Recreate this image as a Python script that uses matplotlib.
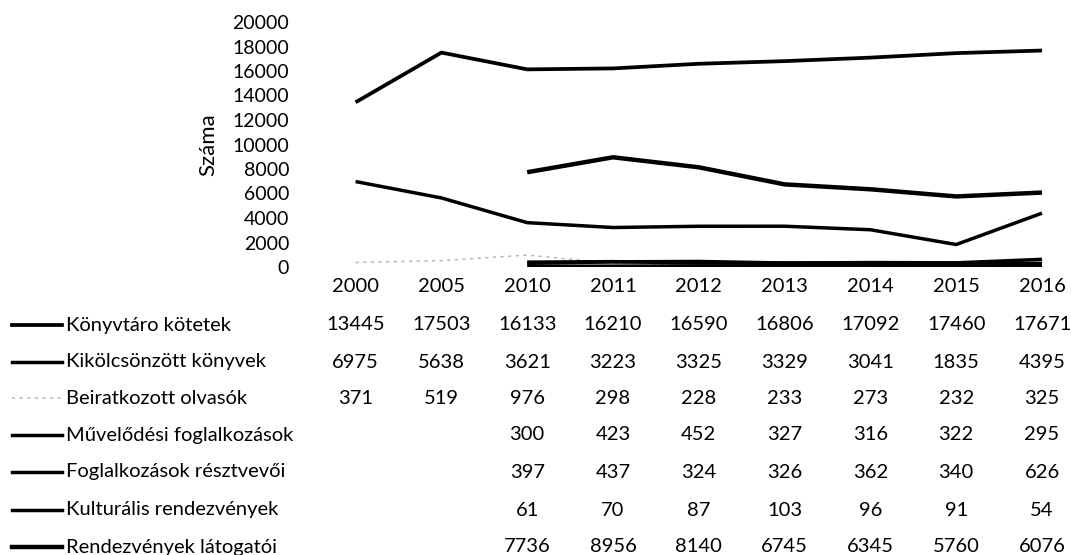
import numpy as np
import matplotlib.pyplot as plt
from matplotlib.lines import Line2D
from matplotlib.transforms import blended_transform_factory

plt.rcParams['font.family'] = ['Lato', 'DejaVu Sans']

years = ["2000", "2005", "2010", "2011", "2012", "2013", "2014", "2015", "2016"]
nan = np.nan
konyvtari_kotetek = [13445, 17503, 16133, 16210, 16590, 16806, 17092, 17460, 17671]
kikolcsonzott = [6975, 5638, 3621, 3223, 3325, 3329, 3041, 1835, 4395]
beiratkozott = [371, 519, 976, 298, 228, 233, 273, 232, 325]
muvelodesi = [nan, nan, 300, 423, 452, 327, 316, 322, 295]
resztvevok = [nan, nan, 397, 437, 324, 326, 362, 340, 626]
kulturalis = [nan, nan, 61, 70, 87, 103, 96, 91, 54]
latogatok = [nan, nan, 7736, 8956, 8140, 6745, 6345, 5760, 6076]

series = [
    ("Könyvtáro kötetek", konyvtari_kotetek, dict(color="black", lw=2.7)),
    ("Kikölcsönzött könyvek", kikolcsonzott, dict(color="black", lw=2.5)),
    ("Beiratkozott olvasók", beiratkozott, dict(color="#b5b5b5", lw=1.1, ls=(0, (2, 3)))),
    ("Művelődési foglalkozások", muvelodesi, dict(color="black", lw=2.5)),
    ("Foglalkozások résztvevői", resztvevok, dict(color="black", lw=2.5)),
    ("Kulturális rendezvények", kulturalis, dict(color="black", lw=2.5)),
    ("Rendezvények látogatói", latogatok, dict(color="black", lw=3.2)),
]

W, H = 1071, 555
fig = plt.figure(figsize=(W / 100, H / 100), dpi=100)

# plot area in pixels
x0_px, step_px = 355.6, 85.8
left_px = x0_px - step_px / 2
top_px, bottom_px = 22, 267
ax = fig.add_axes([left_px / W, 1 - bottom_px / H, (W - left_px) / W, (bottom_px - top_px) / H])
ax.set_xlim(-0.5, (W - left_px) / step_px - 0.5)
ax.set_ylim(0, 20000)

x = np.arange(len(years))
for name, vals, style in series:
    ax.plot(x, vals, solid_capstyle="butt", **style)

for s in ax.spines.values():
    s.set_visible(False)
ax.set_yticks(np.arange(0, 20001, 2000))
ax.tick_params(axis="y", length=0, pad=17, labelsize=14)
ax.set_xticks([])
ax.set_ylabel("Száma", fontsize=16, labelpad=10)

fs = 14.5
trans = blended_transform_factory(ax.transData, fig.transFigure)

def fy(py):
    return 1 - py / H

# table header
for i, yr in enumerate(years):
    ax.text(i, fy(287), yr, transform=trans, ha="center", va="center", fontsize=fs)

row_y = [325, 362, 398, 435, 472, 510, 547]
for (name, vals, style), py in zip(series, row_y):
    fig.add_artist(Line2D([12 / W, 62 / W], [fy(py), fy(py)], transform=fig.transFigure, **style))
    fig.text(66 / W, fy(py), name, ha="left", va="center", fontsize=fs)
    for i, v in enumerate(vals):
        if not np.isnan(v):
            ax.text(i, fy(py), f"{int(v)}", transform=trans, ha="center", va="center", fontsize=fs)

plt.savefig("out.png", dpi=100)
